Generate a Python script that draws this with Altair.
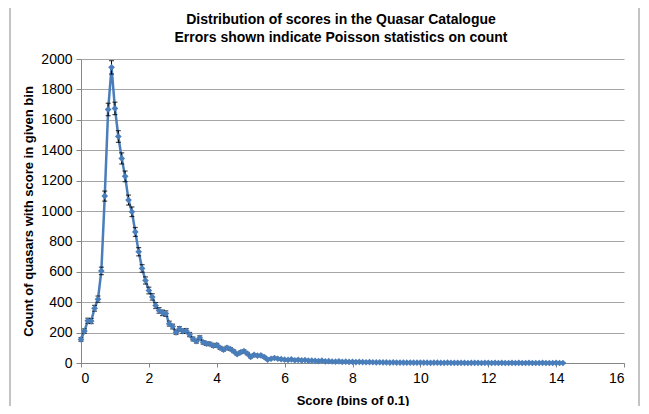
import altair as alt
import numpy as np
import pandas as pd

# counts per 0.1 bin, starting at score 0.0
counts_head = [155, 210, 278, 276, 360, 420, 606, 1098, 1668, 1945,
               1675, 1490, 1346, 1228, 1072, 995, 862, 732, 622, 543,
               477, 435, 378, 346, 330, 325, 259, 240, 202, 224,
               209, 212, 187, 158, 143, 166, 136, 127, 125, 114,
               118, 99, 88, 100, 92, 77, 58, 70, 78, 62,
               40, 54, 48, 50, 39, 22, 28, 33, 28, 25]
counts_tail = [22, 20, 24, 18, 21, 17, 19, 15, 16, 14,
               13, 15, 11, 12, 10, 9, 11, 8, 9, 7,
               8, 6, 7, 6, 5, 6, 5, 4, 5, 4,
               4, 3, 4, 3, 3, 3, 2, 3, 2, 2,
               3, 2, 2, 1, 2, 2, 1, 1, 2, 1,
               1, 1, 1, 1, 0, 1, 1, 1, 0, 1,
               1, 0, 1, 0, 1, 0, 0, 1, 0, 1,
               0, 0, 1, 0, 0, 0, 1, 0, 0, 0,
               1, 0, 0]
counts = counts_head + counts_tail
bin_width = 0.1
scores = [round(i * bin_width, 1) for i in range(len(counts))]

title_lines = ["Distribution of scores in the Quasar Catalogue",
               "Errors shown indicate Poisson statistics on count"]
x_title = "Score (bins of 0.1)"
y_title = "Count of quasars with score in given bin"
x_ticks = list(range(0, 17, 2))
y_ticks = list(range(0, 2001, 200))

df = pd.DataFrame({"score": scores, "count": counts})
df["err"] = np.sqrt(df["count"])
df["lo"] = df["count"] - df["err"]
df["hi"] = df["count"] + df["err"]

FONT = "Liberation Sans"
BLUE = "#4a7ebb"

x_scale = alt.Scale(domain=[0, 16], nice=False)
y_scale = alt.Scale(domain=[0, 2000], nice=False)
x_axis = alt.Axis(values=x_ticks, title=x_title, grid=False, tickSize=4,
                  labelPadding=4, titlePadding=9, format="d", labelOverlap=False)
y_axis = alt.Axis(values=y_ticks, title=y_title, grid=True, tickSize=5,
                  labelPadding=4, titlePadding=5, format="d", labelOverlap=False)


def X(field):
    return alt.X(field, scale=x_scale, axis=x_axis)


def Y(field):
    return alt.Y(field, scale=y_scale, axis=y_axis, title=y_title)


base = alt.Chart(df)
single = pd.DataFrame({"t1": [title_lines[0]], "t2": [title_lines[1]]})

border = alt.Chart(single).mark_rect(fill=None, stroke="#888888", strokeWidth=1).encode(
    x=alt.value(-71), x2=alt.value(558), y=alt.value(-55), y2=alt.value(400))
t1 = alt.Chart(single).mark_text(font=FONT, fontSize=14, fontWeight="bold", color="black",
                                 align="center", baseline="middle").encode(
    x=alt.value(260), y=alt.value(-39), text="t1:N")
t2 = alt.Chart(single).mark_text(font=FONT, fontSize=14, fontWeight="bold", color="black",
                                 align="center", baseline="middle").encode(
    x=alt.value(260), y=alt.value(-21), text="t2:N")

line = base.mark_line(color=BLUE, strokeWidth=2.5).encode(x=X("score:Q"), y=Y("count:Q"))
pts = base.mark_point(shape="diamond", filled=True, color=BLUE, size=45, opacity=1).encode(
    x=X("score:Q"), y=Y("count:Q"))
rule = base.mark_rule(color="black", strokeWidth=1).encode(
    x=X("score:Q"), y=Y("lo:Q"), y2="hi:Q")
cap_hi = base.mark_tick(color="black", orient="horizontal", size=5, thickness=1.2).encode(
    x=X("score:Q"), y=Y("hi:Q"))
cap_lo = base.mark_tick(color="black", orient="horizontal", size=5, thickness=1.2).encode(
    x=X("score:Q"), y=Y("lo:Q"))

chart = alt.layer(line, rule, cap_hi, cap_lo, pts, border, t1, t2).properties(
    width=543, height=304,
    autosize=alt.AutoSizeParams(type="none"),
    padding={"left": 73, "top": 51, "right": 17, "bottom": 43},
    background="white",
).configure_view(stroke=None).configure_axis(
    labelFont=FONT, titleFont=FONT, labelFontSize=14, titleFontSize=13,
    titleFontWeight="bold", labelColor="black", titleColor="black",
    domainColor="#868686", tickColor="#868686", gridColor="#a6a6a6",
)

chart.save("out.html", embed_options={"renderer": "svg", "actions": False})
